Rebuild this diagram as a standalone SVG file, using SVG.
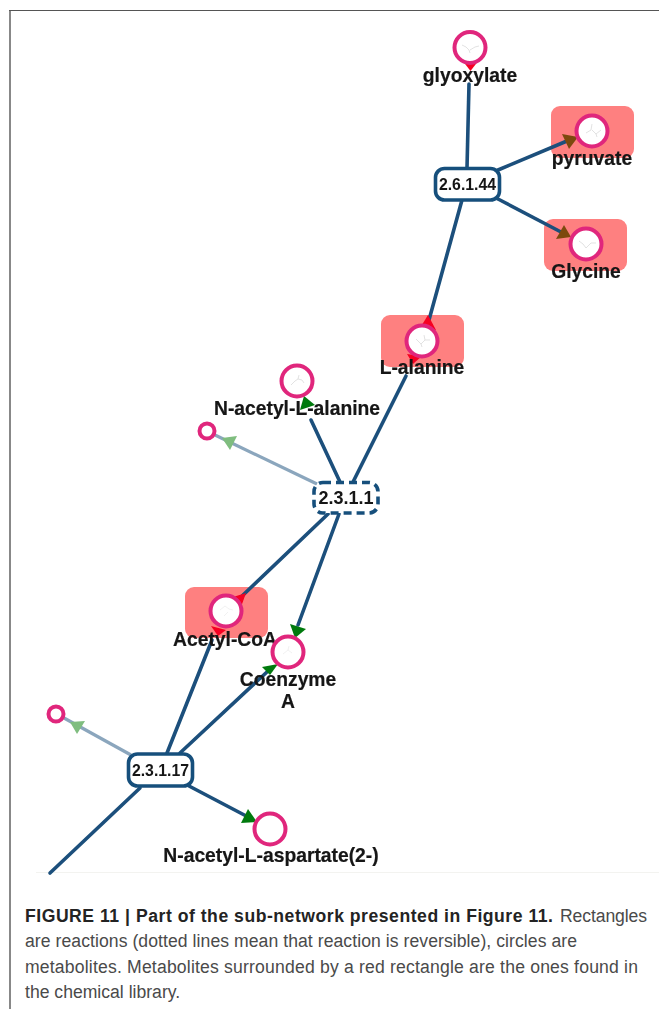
<svg xmlns="http://www.w3.org/2000/svg" width="659" height="1009" viewBox="0 0 659 1009">
<style>
.lib{fill:#fe8080}
.met{fill:#fff;stroke:#e0267c;stroke-width:4}
.rx{fill:#fff;stroke:#17507c;stroke-width:3.6}
.dash{stroke-dasharray:8 5}
.e{stroke:#1b4f7b;stroke-width:3.6;fill:none;stroke-linecap:round}
.f{stroke:#8ba6bd;stroke-width:3.2;fill:none}
.r{fill:#f60020}.g{fill:#067a0c}.lg{fill:#7fbd7f}.b{fill:#7d4a10}
.t{font:bold 19.3px "Liberation Sans",Arial,sans-serif;fill:#141414;text-anchor:middle;stroke:#141414;stroke-width:.2}
.rt{font:bold 15.8px "Liberation Sans",Arial,sans-serif;fill:#141414;text-anchor:middle}
.rt2{font-size:18px}
.c{font:17.6px "Liberation Sans",Arial,sans-serif;fill:#4a4a4a}
.bd{font-weight:bold;fill:#232323}
.mol{fill:none;stroke:#d6d6d6;stroke-width:.7}
</style>
<defs><filter id="soft" x="-2%" y="-2%" width="104%" height="104%"><feGaussianBlur stdDeviation="0.4"/></filter></defs>
<g id="frame">
<path d="M10 1009V10.500" fill="none" stroke="#888" stroke-width="2"/>
<path d="M9 10.500H659" fill="none" stroke="#555" stroke-width="1.200"/>
<path d="M36 872.500H659" stroke="#f3f3f0" stroke-width="1"/>
</g>
<g id="network" filter="url(#soft)">
<g id="library-rects">
<rect class="lib" x="551" y="106" width="83" height="52" rx="9"/>
<rect class="lib" x="544" y="219" width="83" height="52" rx="9"/>
<rect class="lib" x="381" y="315" width="83" height="52" rx="9"/>
<rect class="lib" x="185" y="587" width="83" height="51" rx="9"/>
</g>
<g id="connectors">
<path class="e" d="M467 168L469 84"/>
<path class="e" d="M498 170L567 141"/>
<path class="e" d="M498 199L561 232"/>
<path class="e" d="M462 200L429 320"/>
<path class="e" d="M353 482L406 376"/>
<path class="e" d="M340 482L311 420"/>
<path class="f" d="M317 484L215 435"/>
<path class="e" d="M328 514L241 597"/>
<path class="e" d="M339 514L298 625"/>
<path class="e" d="M167 753L212 640"/>
<path class="e" d="M180 753L268 671"/>
<path class="f" d="M131 755L64 718"/>
<path class="e" d="M189 786L250 818"/>
<path class="e" d="M140 788L50 873"/>
<polygon class="r" points="462,60 479,60 470.500,71"/>
<polygon class="b" points="578,137 562,134 569,149"/>
<polygon class="b" points="571,237 564,225 556,239"/>
<polygon class="r" points="428,315 420,328 436,330"/>
<polygon class="r" points="407,354 422,356 413,364"/>
<polygon class="g" points="304,396 300,410 315,405"/>
<polygon class="lg" points="222,438 237,436 230,450"/>
<polygon class="r" points="246,593 233,597 241,607"/>
<polygon class="r" points="211,626 226,630 218,636"/>
<polygon class="g" points="295,638 290,624 306,629"/>
<polygon class="g" points="278,664 262,667 270,675"/>
<polygon class="lg" points="70,722 85,721 77,734"/>
<polygon class="g" points="257,822 248,809 241,823"/>
</g>
<g id="glyoxylate"><circle class="met" cx="470" cy="47.500" r="15.500"/><path class="mol" d="M462 45l4 2 3 3 1 3M470 50l5-3 4-1"/><text class="t" x="470" y="82">glyoxylate</text></g>
<g id="pyruvate"><circle class="met" cx="592" cy="131" r="15.500"/><path class="mol" d="M586 133l5-3 1-6M592 130l4 4 1 3M596 134l5-4"/><text class="t" x="592" y="165">pyruvate</text></g>
<g id="glycine"><circle class="met" cx="586" cy="244" r="15.500"/><path class="mol" d="M579 241l4 3 3 4 5-5 5 0"/><text class="t" x="586" y="278">Glycine</text></g>
<g id="l-alanine"><circle class="met" cx="422" cy="341" r="15.500"/><path class="mol" d="M416 339l5 5 4-4 5 0M425 340l-1-5M421 344l1 3"/><text class="t" x="422" y="374">L-alanine</text></g>
<g id="n-acetyl-l-alanine"><circle class="met" cx="297" cy="381" r="15.500"/><path class="mol" d="M291 385l4-4 3-2 4 1 2 3M298 379l1-4"/><text class="t" x="297" y="415">N-acetyl-L-alanine</text></g>
<g id="small-1"><circle class="met" cx="207" cy="431" r="7.500"/></g>
<g id="acetyl-coa"><circle class="met" cx="226" cy="611" r="15.500"/><path class="mol" d="M220 610l5-4 4 3 4 1M224 616l4-4" opacity=".5"/><text class="t" x="225" y="646">Acetyl-CoA</text></g>
<g id="coenzyme-a"><circle class="met" cx="288" cy="652" r="15.500"/><path class="mol" d="M283 654l5-4 4 3M288 650l1-4" opacity=".5"/><text class="t"><tspan x="288" y="686">Coenzyme</tspan><tspan x="288" y="708">A</tspan></text></g>
<g id="small-2"><circle class="met" cx="56" cy="714" r="7.500"/></g>
<g id="n-acetyl-l-aspartate"><circle class="met" cx="270" cy="829" r="15.500"/><text class="t" x="271" y="862">N-acetyl-L-aspartate(2-)</text></g>
<g id="r-2-6-1-44"><rect class="rx" x="435.500" y="168.500" width="64" height="31.500" rx="9"/><text class="rt" x="467.500" y="190">2.6.1.44</text></g>
<g id="r-2-3-1-1"><rect class="rx dash" x="314" y="482.500" width="64" height="30.500" rx="9"/><text class="rt rt2" x="346" y="504">2.3.1.1</text></g>
<g id="r-2-3-1-17"><rect class="rx" x="128.500" y="754" width="64" height="32" rx="9"/><text class="rt" x="160.500" y="776">2.3.1.17</text></g>
</g>
<g id="caption">
<text class="c bd" x="25" y="922" textLength="528">FIGURE 11 | Part of the sub-network presented in Figure 11.</text>
<text class="c" x="560" y="922" textLength="87">Rectangles</text>
<text class="c" x="25" y="947" textLength="552">are reactions (dotted lines mean that reaction is reversible), circles are</text>
<text class="c" x="25" y="973" textLength="613">metabolites. Metabolites surrounded by a red rectangle are the ones found in</text>
<text class="c" x="25" y="998">the chemical library.</text>
</g>
</svg>
